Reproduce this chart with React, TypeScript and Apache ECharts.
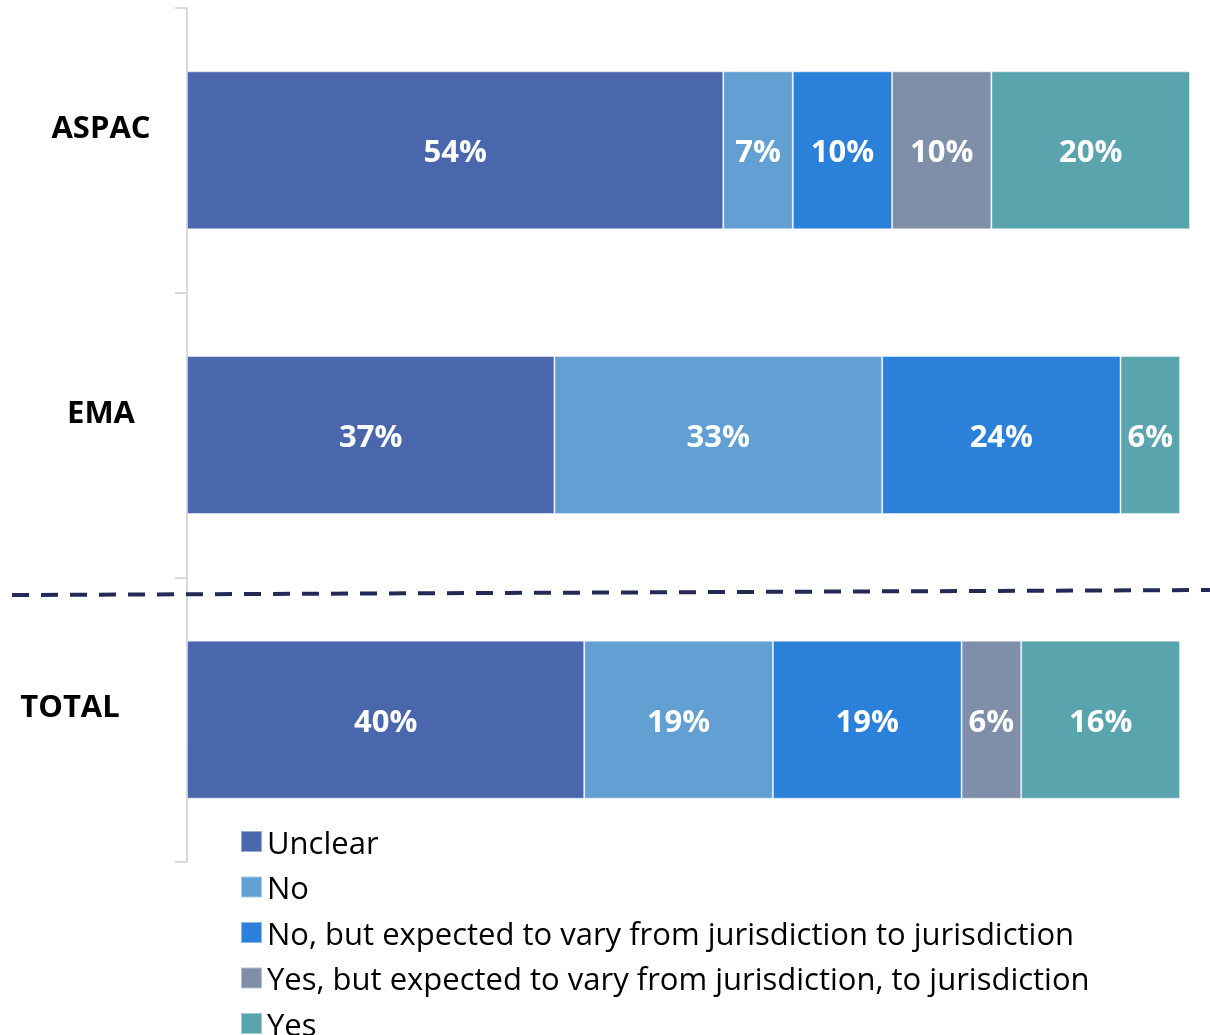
import React, { useEffect, useRef } from "react";
import * as echarts from "echarts";

const categories = ["ASPAC", "EMA", "TOTAL"];
const seriesNames = [
  "Unclear",
  "No",
  "No, but expected to vary from jurisdiction to jurisdiction",
  "Yes, but expected to vary from jurisdiction, to jurisdiction",
  "Yes",
];
const unclear = [54, 37, 40];
const no = [7, 33, 19];
const noBut = [10, 24, 19];
const yesBut = [10, null, 6];
const yes = [20, 6, 16];
const colors = ["#4a67ae", "#629fd2", "#2b80d9", "#7f8fa9", "#5aa4ae"];

const FONT = "'Open Sans', Lato, sans-serif";

export default function App() {
  const ref = useRef<HTMLDivElement>(null);
  useEffect(() => {
    if (!ref.current) return;
    const chart = echarts.init(ref.current, null, { renderer: "svg" });
    const values = [unclear, no, noBut, yesBut, yes];
    chart.setOption({
      animation: false,
      textStyle: { fontFamily: FONT },
      grid: { left: 187, top: 8, width: 1003, height: 854, containLabel: false },
      xAxis: {
        type: "value",
        min: 0,
        max: 101,
        show: false,
      },
      yAxis: {
        type: "category",
        data: categories,
        inverse: true,
        axisLine: { show: true, lineStyle: { color: "#d9d9d9", width: 2 } },
        axisTick: { show: true, length: 12, lineStyle: { color: "#d9d9d9", width: 2 } },
        axisLabel: {
          align: "center",
          margin: 86,
          formatter: (v: string) => (v === "TOTAL" ? `{t|${v}}` : `{a|${v}}`),
          rich: {
            a: {
              fontSize: 31,
              fontWeight: "bold",
              color: "#000",
              fontFamily: FONT,
              padding: [0, 0, 48, 0],
            },
            t: {
              fontSize: 31,
              fontWeight: "bold",
              color: "#000",
              fontFamily: FONT,
              padding: [0, 62, 30, 0],
            },
          },
        },
      },
      legend: {
        orient: "vertical",
        left: 235,
        top: 821,
        height: 400,
        itemWidth: 21,
        itemHeight: 21,
        itemGap: 14.5,
        icon: "rect",
        data: seriesNames,
        textStyle: { fontSize: 31, color: "#000", fontFamily: FONT, lineHeight: 30 },
      },
      series: seriesNames.map((name, i) => ({
        name,
        type: "bar",
        stack: "total",
        barWidth: 158,
        data: values[i],
        itemStyle: { color: colors[i], borderColor: "rgba(255,255,255,0.45)", borderWidth: 1 },
        label: {
          show: true,
          position: "inside",
          formatter: "{c}%",
          color: "#fff",
          fontSize: 31,
          fontWeight: "bold",
          fontFamily: FONT,
        },
      })),
      graphic: [
        {
          type: "line",
          shape: { x1: 12, y1: 595, x2: 1210, y2: 590 },
          style: { stroke: "#232a55", lineWidth: 4, lineDash: [17, 12] },
          z: 10,
        },
      ],
    });
    return () => chart.dispose();
  }, []);
  return (
    <div
      ref={ref}
      style={{ position: "fixed", left: 0, top: 0, width: 1210, height: 1035 }}
    />
  );
}
